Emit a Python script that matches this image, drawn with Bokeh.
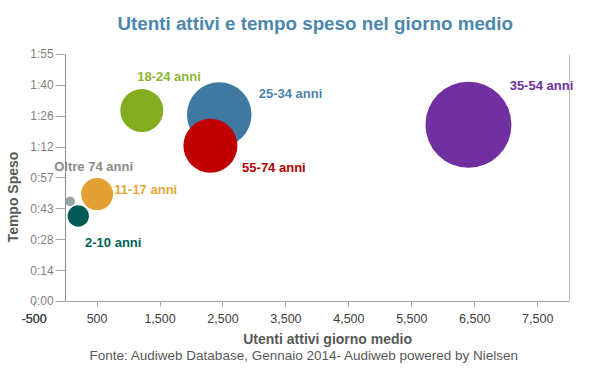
import math
from bokeh.plotting import figure
from bokeh.models import Range1d, FixedTicker, Label, ColumnDataSource, LinearAxis
from bokeh.core.properties import value
from bokeh.embed import file_html
from bokeh.resources import INLINE

# ---- data ----
groups = ["2-10 anni", "11-17 anni", "18-24 anni", "25-34 anni",
          "35-54 anni", "55-74 anni", "Oltre 74 anni"]
users_k = [200, 500, 1210, 2440, 6400, 2300, 70]          # utenti attivi giorno medio
time_min = [39.8, 50.0, 88.9, 87.0, 82.3, 72.5, 46.6]      # tempo speso (minuti)
bubble_size = [114, 256, 462, 1043, 1849, 729, 24]         # dimensione bolla

x_tick_values = [-500, 500, 1500, 2500, 3500, 4500, 5500, 6500, 7500]
x_tick_labels = ["-500", "500", "1,500", "2,500", "3,500", "4,500", "5,500", "6,500", "7,500"]
y_tick_values = [0, 14.375, 28.75, 43.125, 57.5, 71.875, 86.25, 100.625, 115]
y_tick_labels = ["0:00", "0:14", "0:28", "0:43", "0:57", "1:12", "1:26", "1:40", "1:55"]
x_axis_min, x_axis_max = 0, 8000
y_axis_min, y_axis_max = 0, 115

# ---- styles ----
bubble_colors = ["#005A55", "#E3A033", "#83AC1F", "#3F78A0", "#7030A0", "#C00000", "#95A4A4"]
label_colors = ["#006058", "#E9A53C", "#8DB534", "#4D84AC", "#7030A0", "#B40000", "#8A8A8A"]
label_dx = [6.8, 17.2, -4.6, 39.5, 41.2, 31.7, -15.8]
label_dy = [26, -4.7, -34, -21, -39.3, 21.3, -34.5]

FONT = "Liberation Sans"
GRAY = "#595959"
TICK_FONT_X = "12.5px"

src = ColumnDataSource(dict(
    x=users_k, y=time_min, g=groups,
    d=[2 * math.sqrt(v) for v in bubble_size],
    c=bubble_colors, lc=label_colors, dx=label_dx, dy=label_dy,
))

# frame covers the whole canvas below the title; axes sit at fixed data locations
p = figure(width=608, height=369,
           x_range=Range1d(-1035, 8625), y_range=Range1d(-31.66, 123.38),
           x_axis_type=None, y_axis_type=None,
           output_backend="svg", toolbar_location=None,
           min_border_left=0, min_border_right=0,
           min_border_top=36, min_border_bottom=0,
           background_fill_color="white", border_fill_color="white")
p.outline_line_color = None

p.title.text = "Utenti attivi e tempo speso nel giorno medio"
p.title.text_font = FONT
p.title.text_font_size = "18.8px"
p.title.text_color = "#4B87AD"
p.title.align = "left"
p.title.offset = 117
p.title.standoff = 5

# x axis
xa = LinearAxis(fixed_location=y_axis_min, bounds=(x_axis_min, x_axis_max),
                ticker=FixedTicker(ticks=x_tick_values))
xa.major_label_overrides = {v: l for v, l in zip(x_tick_values, x_tick_labels)}
xa.axis_line_color = "#A6A6A6"
xa.major_tick_line_color = "#A6A6A6"
xa.major_tick_out = 5
xa.major_tick_in = 0
xa.minor_tick_line_color = None
xa.major_label_text_font = FONT
xa.major_label_text_font_size = TICK_FONT_X
xa.major_label_text_color = "#404040"
xa.major_label_standoff = 8
p.add_layout(xa, "below")

# y axis
ya = LinearAxis(fixed_location=x_axis_min, bounds=(y_axis_min, y_axis_max),
                ticker=FixedTicker(ticks=y_tick_values))
ya.major_label_overrides = {v: l for v, l in zip(y_tick_values, y_tick_labels)}
ya.axis_line_color = "#8C8C8C"
ya.major_tick_line_color = "#A6A6A6"
ya.major_tick_out = 10
ya.major_tick_in = 0
ya.minor_tick_line_color = None
ya.major_label_text_font = FONT
ya.major_label_text_font_size = "12px"
ya.major_label_text_color = "#7F7F7F"
ya.major_label_standoff = 2
p.add_layout(ya, "left")

# right border of the plot area
ra = LinearAxis(fixed_location=x_axis_max, bounds=(y_axis_min, y_axis_max),
                ticker=FixedTicker(ticks=[]))
ra.axis_line_color = "#BFBFBF"
ra.major_tick_line_color = None
ra.minor_tick_line_color = None
ra.major_label_text_color = None
p.add_layout(ra, "right")

# horizontal gridlines, limited to the plot area
p.ygrid.ticker = FixedTicker(ticks=y_tick_values)
p.ygrid.bounds = (y_axis_min, y_axis_max)
p.ygrid.cross_bounds = (x_axis_min, x_axis_max)
p.ygrid.grid_line_color = "#C8C8C8"
p.xgrid.visible = False

p.scatter(x="x", y="y", size="d", fill_color="c", line_color=None, source=src)

p.text(x="x", y="y", text="g", x_offset="dx", y_offset="dy", text_color="lc",
       text_font=value(FONT), text_font_size="13px", text_font_style="bold",
       text_align="left", text_baseline="middle", source=src)

# tick label lying left of the plot area (-500)
p.add_layout(Label(x=x_tick_values[0], y=y_axis_min, y_offset=-13, text=x_tick_labels[0],
                   text_align="center", text_baseline="top", text_font=FONT,
                   text_font_size=TICK_FONT_X, text_color="#404040"))

p.add_layout(Label(x=x_axis_min, y=y_axis_min, x_offset=-53, y_offset=104.5, text="Tempo Speso",
                   angle=math.pi / 2, text_align="center", text_baseline="middle",
                   text_font=FONT, text_font_size="14px", text_font_style="bold",
                   text_color=GRAY))

p.add_layout(Label(x=x_axis_min, y=y_axis_min, x_offset=177.6, y_offset=-37.5,
                   text="Utenti attivi giorno medio",
                   text_align="left", text_baseline="middle",
                   text_font=FONT, text_font_size="14px", text_font_style="bold",
                   text_color=GRAY))

p.add_layout(Label(x=x_axis_min, y=y_axis_min, x_offset=23.9, y_offset=-54,
                   text="Fonte: Audiweb Database, Gennaio 2014- Audiweb powered by Nielsen",
                   text_align="left", text_baseline="middle",
                   text_font=FONT, text_font_size="13.5px", text_color=GRAY))

open("out.html", "w").write(file_html(p, INLINE))
